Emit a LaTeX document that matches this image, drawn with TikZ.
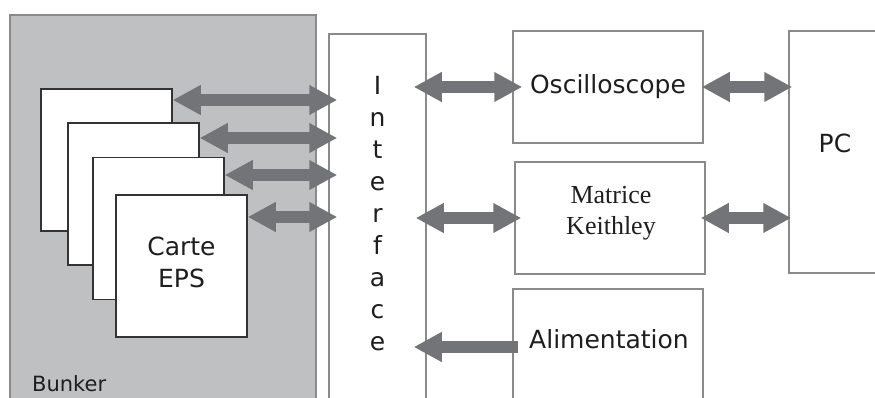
\documentclass[tikz,border=0pt]{standalone}
\usepackage{fontspec}
\setmainfont{DejaVu Sans}
\newfontfamily\serifk{Liberation Serif}
\usetikzlibrary{arrows.meta}
\definecolor{bunkerfill}{HTML}{BFC0C2}
\definecolor{boxline}{HTML}{8A8A8A}
\definecolor{arrowgray}{HTML}{737478}
\definecolor{txt}{HTML}{1E1E1E}
\begin{document}
\begin{tikzpicture}[x=1pt,y=-1pt,
  box/.style={draw=boxline,line width=1.5pt,fill=white,inner sep=0pt},
  card/.style={draw=black!80,line width=1.5pt,fill=white,minimum width=131pt,minimum height=142pt,inner sep=0pt},
  lbl/.style={font=\fontsize{25}{32}\selectfont,text=txt,inner sep=0pt},
  tip/.tip={Triangle[length=28pt,width=28pt]},
  dbl/.style={draw=arrowgray,line width=12pt,tip-tip},
  sgl/.style={draw=arrowgray,line width=12pt,-tip}]
\useasboundingbox (0,0) rectangle (875,398);
\clip (0,0) rectangle (875,398);
% containers
\node[box,fill=bunkerfill,minimum width=306pt,minimum height=405pt] (bunker) at (163,217.5) {};
\node[box,minimum width=97pt,minimum height=386pt] (iface) at (377.5,227) {};
\node[box,minimum width=190pt,minimum height=112pt] (osc) at (608,87) {};
\node[box,minimum width=190pt,minimum height=112pt] (mat) at (610,218) {};
\node[box,minimum width=190pt,minimum height=131pt] (alim) at (608,354.5) {};
\node[box,minimum width=111pt,minimum height=242pt] (pc) at (844.5,152) {};
% cards
\node[card] (c1) at (106.5,160) {};
\node[card] (c2) at (133.5,194) {};
\node[card] (c3) at (158.5,228.5) {};
\node[card] (c4) at (181.5,266) {};
% labels
\node[lbl,align=center] (carte) at (181.5,262.5) {Carte\\EPS};
\node[lbl,font=\fontsize{21}{25}\selectfont,anchor=base west] (bunkerlbl) at (32,391) {Bunker};
\node[lbl,align=center,anchor=north] (ifacelbl) at (377.5,76) {I\\n\\t\\e\\r\\f\\a\\c\\e};
\node[lbl,anchor=base] (osclbl) at (608,94) {Oscilloscope};
\node[lbl,font=\serifk\fontsize{26}{31}\selectfont,align=center,anchor=north] (matlbl) at (611,186) {Matrice\\Keithley};
\node[lbl,anchor=base] (alimlbl) at (609,348) {Alimentation};
\node[lbl,anchor=base] (pclbl) at (835,153) {PC};
% arrows cards <-> interface
\draw[dbl,shorten >=-9pt] (c1.east |- 0,100) -- (iface.west |- 0,100);
\draw[dbl,shorten >=-9pt] (c2.east |- 0,138) -- (iface.west |- 0,138);
\draw[dbl,shorten >=-9pt] (c3.east |- 0,175) -- (iface.west |- 0,175);
\draw[dbl,shorten >=-9pt] (c4.east |- 0,217) -- (iface.west |- 0,217);
% interface <-> instruments
\draw[dbl,shorten <=-13pt,shorten >=-10pt] (iface.east |- osc.west) -- (osc.west);
\draw[dbl,shorten <=-11pt,shorten >=-7pt] (iface.east |- mat.west) -- (mat.west);
\draw[sgl,shorten <=-6pt,shorten >=-13pt] (alim.west |- 0,347) -- (iface.east |- 0,347);
% instruments <-> PC
\draw[dbl,shorten <=-2pt,shorten >=-4pt] (osc.east) -- (pc.west |- osc.east);
\draw[dbl,shorten <=-5pt,shorten >=-3pt] (mat.east) -- (pc.west |- mat.east);
\end{tikzpicture}
\end{document}
